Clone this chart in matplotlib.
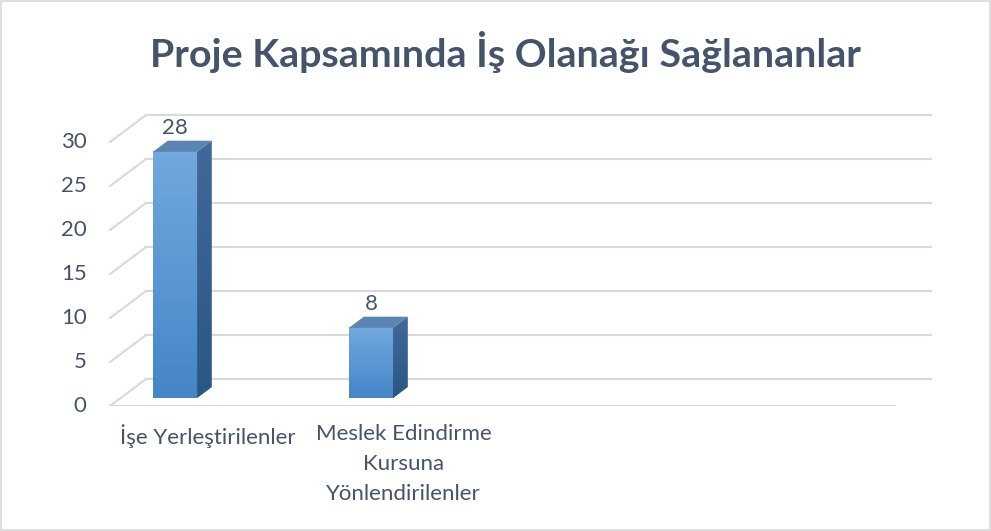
import matplotlib.pyplot as plt
import numpy as np
from matplotlib.patches import Polygon, Rectangle
from matplotlib.colors import LinearSegmentedColormap

# chart data
title = 'Proje Kapsamında İş Olanağı Sağlananlar'
categories = ['İşe Yerleştirilenler', 'Meslek Edindirme\nKursuna\nYönlendirilenler']
values = [28, 8]
yticks = [0, 5, 10, 15, 20, 25, 30]

plt.rcParams['font.family'] = ['Lato', 'DejaVu Sans']
TXT = '#44546A'
GRID = '#D9D9D9'

W, H = 991, 531
fig = plt.figure(figsize=(W / 100, H / 100), dpi=100)
fig.patches.append(Rectangle((0.001, 0.002), 0.998, 0.996, transform=fig.transFigure,
                             fill=False, edgecolor='#D9D9D9', lw=1.2))

# axes placed in pixels: x 100..940, y 98..406
ax = fig.add_axes([100 / W, 1 - 406 / H, 840 / W, 308 / H])
ax.set_xlim((100 - 164.6) / 196, (940 - 164.6) / 196)
ax.set_ylim(0, 35)
ax.axis('off')

# oblique depth projection (d = 0 front, 1 back)
DX = 36 / 196
DY = 27 / 8.8


def proj(x, y, d):
    return (x + d * DX, y + d * DY)


xl, xr = (110 - 164.6) / 196, 3.725

# walls / gridlines
for t in yticks:
    (x0, y0), (x1, y1) = proj(xl, t, 0), proj(xl, t, 1)
    ax.plot([x0, x1], [y0, y1], color=GRID, lw=1.5, zorder=1)
    (x2, y2) = proj(xr, t, 1)
    ax.plot([x1, x2], [y1, y2], color=GRID, lw=1.5, zorder=1)
    ax.text(x0 - 0.12, y0, str(t), ha='right', va='center', fontsize=16, color=TXT)
(x0, y0), (x2, y2) = proj(xl, 0, 0), proj(xr, 0, 0)
ax.plot([x0, x2], [y0, y2], color=GRID, lw=1.5, zorder=1)

front_cm = LinearSegmentedColormap.from_list('front', ['#4586C8', '#71A8DE'])
side_cm = LinearSegmentedColormap.from_list('side', ['#2B5784', '#41699A'])
grad = np.linspace(0, 1, 64).reshape(-1, 1)

w = 44 / 196
d0, d1 = 0.29, 0.70
for i, v in enumerate(values):
    fl, fr = i - w / 2, i + w / 2
    # front face
    (ax0, ay0), (ax1, ay1) = proj(fl, 0, d0), proj(fr, v, d0)
    ax.imshow(grad, extent=[ax0, ax1, ay0, ay1], origin='lower', cmap=front_cm,
              aspect='auto', zorder=3)
    # side face
    side = Polygon([proj(fr, 0, d0), proj(fr, 0, d1), proj(fr, v, d1), proj(fr, v, d0)],
                   closed=True, facecolor='none', edgecolor='none')
    ax.add_patch(side)
    sx0, sy0 = proj(fr, 0, d0)
    sx1, sy1 = proj(fr, v, d1)
    im = ax.imshow(grad, extent=[sx0, sx1, sy0, sy1], origin='lower', cmap=side_cm,
                   aspect='auto', zorder=3)
    im.set_clip_path(side)
    # top face
    top = Polygon([proj(fl, v, d0), proj(fr, v, d0), proj(fr, v, d1), proj(fl, v, d1)],
                  closed=True, facecolor='#5A84B2', edgecolor='none', zorder=4)
    ax.add_patch(top)
    lx, ly = proj(i, v, d0)
    ax.annotate(str(v), (lx, ly), xytext=(0, 17), textcoords='offset points',
                ha='center', va='center', fontsize=16, color=TXT)
    ax.text(i + 0.22, -2.05, categories[i], ha='center', va='top', fontsize=16,
            color=TXT, linespacing=1.62)

ax.set_xlim((100 - 164.6) / 196, (940 - 164.6) / 196)
ax.set_ylim(0, 35)

fig.text(505 / W, 1 - 52 / H, title, ha='center', va='center', fontsize=28.4,
         fontweight='bold', color=TXT)

fig.savefig('out.png', dpi=100)
